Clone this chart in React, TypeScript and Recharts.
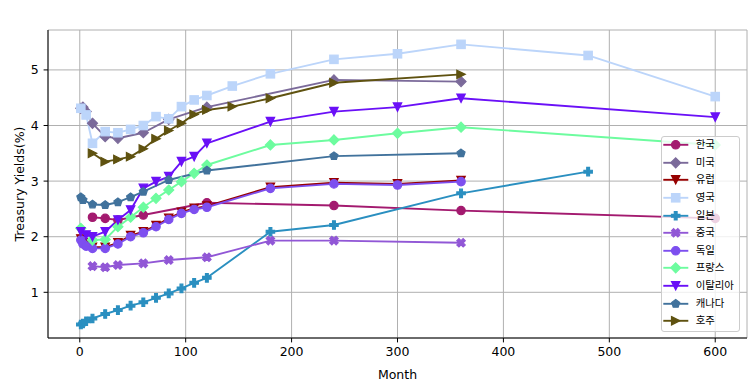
import React from "react";
import { LineChart, Line, XAxis, YAxis, CartesianGrid } from "recharts";

const FONT = '"DejaVu Sans", "Noto Sans CJK KR", sans-serif';

const countries = ["한국", "미국", "유럽", "영국", "일본", "중국", "독일", "프랑스", "이탈리아", "캐나다", "호주"];
const colors = ["#a31a6f", "#7b6a9a", "#960000", "#bcd5fa", "#2a8fc0", "#9157d6", "#7d4fef", "#6dfc9f", "#6a10f7", "#41729c", "#5f5210"];
const shapes = ["circle", "diamond", "tridown", "square", "plus", "xfill", "circle", "diamond", "tridown", "pentagon", "triright"];

const krMonths = [12, 24, 36, 60, 120, 240, 360, 600];
const krYields = [2.35, 2.33, 2.3, 2.39, 2.61, 2.56, 2.47, 2.33];

const usMonths = [1, 3, 6, 12, 24, 36, 60, 84, 120, 240, 360];
const usYields = [4.31, 4.33, 4.25, 4.04, 3.8, 3.77, 3.87, 4.11, 4.33, 4.82, 4.79];

const euMonths = [1, 3, 6, 12, 24, 36, 48, 60, 72, 84, 96, 108, 120, 180, 240, 300, 360];
const euYields = [1.96, 1.89, 1.85, 1.81, 1.81, 1.89, 2.02, 2.09, 2.2, 2.33, 2.44, 2.51, 2.55, 2.89, 2.97, 2.95, 3.01];

const ukMonths = [1, 6, 12, 24, 36, 48, 60, 72, 84, 96, 108, 120, 144, 180, 240, 300, 360, 480, 600];
const ukYields = [4.31, 4.19, 3.68, 3.89, 3.87, 3.93, 4.0, 4.16, 4.12, 4.34, 4.46, 4.54, 4.71, 4.93, 5.19, 5.29, 5.46, 5.26, 4.52];

const jpMonths = [1, 3, 6, 12, 24, 36, 48, 60, 72, 84, 96, 108, 120, 180, 240, 360, 480];
const jpYields = [0.42, 0.44, 0.48, 0.53, 0.61, 0.68, 0.76, 0.82, 0.9, 0.98, 1.07, 1.17, 1.26, 2.09, 2.21, 2.78, 3.17];

const cnMonths = [12, 24, 36, 60, 84, 120, 180, 240, 360];
const cnYields = [1.47, 1.45, 1.49, 1.52, 1.58, 1.63, 1.93, 1.93, 1.89];

const deMonths = [1, 3, 6, 12, 24, 36, 48, 60, 72, 84, 96, 108, 120, 180, 240, 300, 360];
const deYields = [1.94, 1.87, 1.83, 1.79, 1.79, 1.87, 2.0, 2.07, 2.18, 2.31, 2.42, 2.49, 2.53, 2.87, 2.95, 2.93, 2.99];

const frMonths = [1, 12, 24, 36, 48, 60, 72, 84, 96, 108, 120, 180, 240, 300, 360, 600];
const frYields = [2.15, 1.94, 1.95, 2.18, 2.35, 2.53, 2.69, 2.84, 2.99, 3.14, 3.29, 3.65, 3.74, 3.86, 3.97, 3.65];

const itMonths = [1, 6, 12, 24, 36, 48, 60, 72, 84, 96, 108, 120, 180, 240, 300, 360, 600];
const itYields = [2.09, 2.03, 2.0, 2.09, 2.3, 2.48, 2.87, 2.99, 3.08, 3.35, 3.44, 3.68, 4.07, 4.25, 4.33, 4.49, 4.15];

const caMonths = [1, 3, 12, 24, 36, 48, 60, 84, 120, 240, 360];
const caYields = [2.71, 2.66, 2.58, 2.57, 2.62, 2.71, 2.81, 3.02, 3.19, 3.45, 3.5];

const auMonths = [12, 24, 36, 48, 60, 72, 84, 96, 108, 120, 144, 180, 240, 360];
const auYields = [3.5, 3.35, 3.39, 3.44, 3.58, 3.76, 3.91, 4.04, 4.2, 4.28, 4.34, 4.49, 4.77, 4.92];

const monthTicks = [0, 100, 200, 300, 400, 500, 600];
const yieldTicks = [1, 2, 3, 4, 5];

const allMonths = [krMonths, usMonths, euMonths, ukMonths, jpMonths, cnMonths, deMonths, frMonths, itMonths, caMonths, auMonths];
const allYields = [krYields, usYields, euYields, ukYields, jpYields, cnYields, deYields, frYields, itYields, caYields, auYields];

const series = countries.map((name, i) => ({
  name,
  color: colors[i],
  shape: shapes[i],
  data: allMonths[i].map((m, j) => ({ month: m, y: allYields[i][j] })),
}));

const pts = (arr: number[][], cx: number, cy: number, k: number) =>
  arr.map(([a, b]) => `${cx + a * k},${cy + b * k}`).join(" ");

const PLUS = [[-1, -3], [1, -3], [1, -1], [3, -1], [3, 1], [1, 1], [1, 3], [-1, 3], [-1, 1], [-3, 1], [-3, -1], [-1, -1]];
const XF = [[-1, -2], [0, -1], [1, -2], [2, -1], [1, 0], [2, 1], [1, 2], [0, 1], [-1, 2], [-2, 1], [-1, 0], [-2, -1]];

function Marker({ shape, cx, cy, color }: { shape: string; cx: number; cy: number; color: string }) {
  const s = 4.2;
  const common = { fill: color, stroke: color, strokeWidth: 1.2 };
  if (cx == null || cy == null) return null;
  switch (shape) {
    case "circle":
      return <circle cx={cx} cy={cy} r={s} {...common} />;
    case "diamond": {
      const d = 5.0;
      return <polygon points={`${cx},${cy - d} ${cx + d},${cy} ${cx},${cy + d} ${cx - d},${cy}`} {...common} />;
    }
    case "tridown":
      return <polygon points={`${cx - s},${cy - s} ${cx + s},${cy - s} ${cx},${cy + s}`} {...common} />;
    case "triright":
      return <polygon points={`${cx - s},${cy - s} ${cx + s},${cy} ${cx - s},${cy + s}`} {...common} />;
    case "square":
      return <rect x={cx - s} y={cy - s} width={2 * s} height={2 * s} {...common} />;
    case "plus":
      return <polygon points={pts(PLUS, cx, cy, (2 * s) / 6)} {...common} />;
    case "xfill":
      return <polygon points={pts(XF, cx, cy, (2 * s) / 4)} {...common} />;
    case "pentagon": {
      const p = [0, 1, 2, 3, 4]
        .map((k) => {
          const a = ((-90 + 72 * k) * Math.PI) / 180;
          return `${cx + s * Math.cos(a)},${cy + s * Math.sin(a)}`;
        })
        .join(" ");
      return <polygon points={p} {...common} />;
    }
    default:
      return null;
  }
}

function ChartLegend() {
  return (
    <div
      style={{
        position: "absolute",
        left: 661,
        top: 136,
        width: 79,
        height: 196,
        boxSizing: "border-box",
        background: "rgba(255,255,255,0.8)",
        border: "1px solid #cccccc",
        borderRadius: 3,
        fontFamily: FONT,
      }}
    >
      {series.map((s, i) => (
        <div
          key={s.name}
          style={{ position: "absolute", left: 0, top: -0.8 + i * 17.6, height: 17.6, display: "flex", alignItems: "center" }}
        >
          <svg width={33.7} height={17.6} style={{ display: "block" }}>
            <line x1={1.3} x2={26.3} y1={8.8} y2={8.8} stroke={s.color} strokeWidth={1.9} />
            <Marker shape={s.shape} cx={13.7} cy={8.8} color={s.color} />
          </svg>
          <span style={{ fontSize: 10.4, color: "#000", whiteSpace: "nowrap", lineHeight: "17.6px" }}>{s.name}</span>
        </div>
      ))}
    </div>
  );
}

export default function App() {
  const tickStyle = { fill: "#000", fontSize: 12.5, fontFamily: FONT };
  return (
    <div style={{ position: "absolute", left: 0, top: 0, width: 755, height: 391, background: "#fff" }}>
      <style>{`body{margin:0}`}</style>
      <LineChart width={755} height={391} margin={{ top: 30, right: 8, bottom: 0, left: 0 }}>
        <CartesianGrid stroke="#b0b0b0" strokeWidth={1} />
        <XAxis
          dataKey="month"
          type="number"
          domain={[-30, 630]}
          allowDataOverflow
          ticks={monthTicks}
          height={53}
          tick={tickStyle}
          tickSize={4.4}
          tickMargin={5}
          axisLine={{ stroke: "#000" }}
          tickLine={{ stroke: "#000" }}
          label={() => (
            <text x={397.5} y={378.5} textAnchor="middle" fontSize={12.5} fontFamily={FONT} fill="#000">
              Month
            </text>
          )}
        />
        <XAxis
          xAxisId="top"
          orientation="top"
          type="number"
          domain={[-30, 630]}
          height={0}
          tick={false}
          tickLine={false}
          axisLine={{ stroke: "#000" }}
          label={() => (
            <text x={397.5} y={20.5} textAnchor="middle" fontSize={15} fontFamily={FONT} fill="#000">
              Group1 Treasury Yields [2025.05.03.]
            </text>
          )}
        />
        <YAxis
          type="number"
          domain={[0.178, 5.718]}
          allowDataOverflow
          ticks={yieldTicks}
          width={48}
          tick={tickStyle}
          tickSize={4.4}
          tickMargin={5}
          axisLine={{ stroke: "#000" }}
          tickLine={{ stroke: "#000" }}
          label={() => (
            <text
              x={23.5}
              y={184}
              transform="rotate(-90 23.5 184)"
              textAnchor="middle"
              fontSize={12.5}
              fontFamily={FONT}
              fill="#000"
            >
              Treasury Yields(%)
            </text>
          )}
        />
        <YAxis
          yAxisId="right"
          orientation="right"
          type="number"
          domain={[0.178, 5.718]}
          width={0}
          tick={false}
          tickLine={false}
          axisLine={{ stroke: "#000" }}
        />
        {series.map((s) => (
          <Line
            key={s.name}
            data={s.data}
            dataKey="y"
            name={s.name}
            type="linear"
            stroke={s.color}
            strokeWidth={1.9}
            strokeLinejoin="round"
            isAnimationActive={false}
            activeDot={false}
            dot={(p: any) => <Marker key={`${s.name}-${p.index}`} shape={s.shape} cx={p.cx} cy={p.cy} color={s.color} />}
          />
        ))}
      </LineChart>
      <ChartLegend />
    </div>
  );
}
